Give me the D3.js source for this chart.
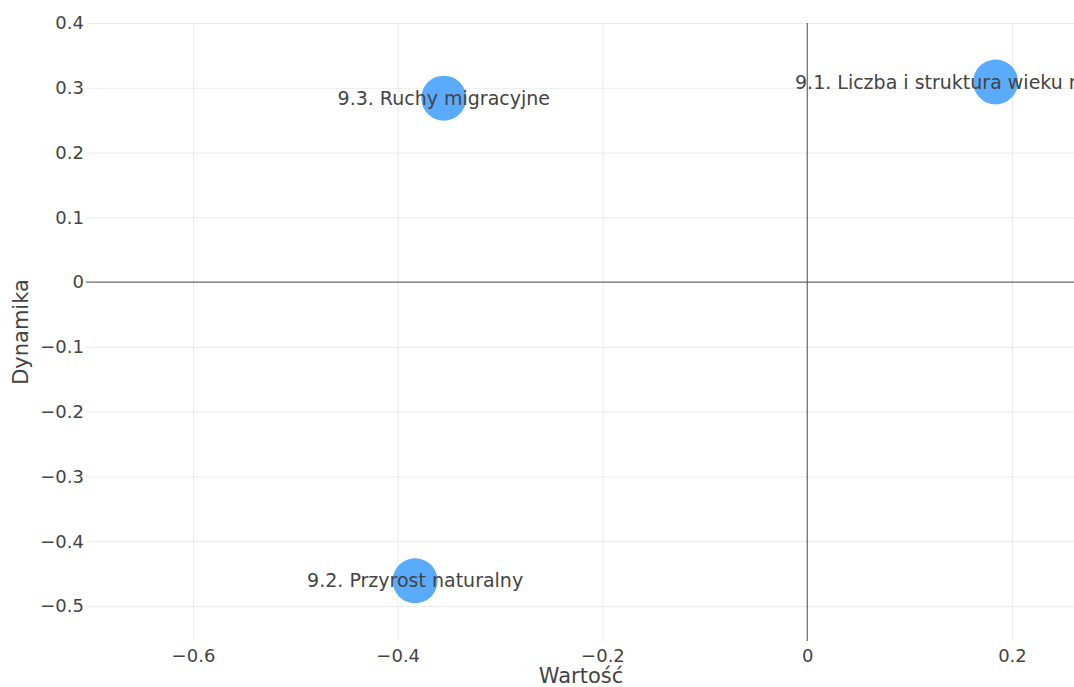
<!DOCTYPE html>
<html><head><meta charset="utf-8">
<script src="https://cdn.jsdelivr.net/npm/d3@7"></script>
<style>body{margin:0;background:#fff}svg{display:block}</style>
</head><body>
<svg id="chart" width="1074" height="687"></svg>
<script>
const labels = ["9.1. Liczba i struktura wieku mieszkańców", "9.2. Przyrost naturalny", "9.3. Ruchy migracyjne"];
const wartosc = [0.184, -0.383, -0.355];
const dynamika = [0.309, -0.461, 0.284];
const xTicks = [-0.6, -0.4, -0.2, 0, 0.2];
const yTicks = [-0.5, -0.4, -0.3, -0.2, -0.1, 0, 0.1, 0.2, 0.3, 0.4];

const svg = d3.select("#chart");
const W = 1074, H = 687;
const m = {left: 86, right: 0, top: 23, bottom: 46};
const x = d3.scaleLinear().domain([-0.7045, 0.2606]).range([m.left, W - m.right]);
const y = d3.scaleLinear().domain([-0.554, 0.4]).range([H - m.bottom, m.top]);
const font = "'DejaVu Sans', Verdana, sans-serif";
const fmt = v => v === 0 ? "0" : d3.format(".1f")(v);

// grid
const gx = svg.append("g").attr("transform", `translate(0,${H - m.bottom})`)
  .call(d3.axisBottom(x).tickValues(xTicks).tickSize(-(H - m.top - m.bottom)).tickFormat(fmt).tickPadding(8));
const gy = svg.append("g").attr("transform", `translate(${m.left},0)`)
  .call(d3.axisLeft(y).tickValues(yTicks).tickSize(-(W - m.left - m.right)).tickFormat(fmt).tickPadding(2));
[gx, gy].forEach(g => {
  g.select(".domain").remove();
  g.selectAll(".tick line").attr("stroke", "#ebebeb").attr("stroke-width", 1);
  g.selectAll(".tick text").attr("fill", "#444").style("font-family", font).style("font-size", "18px");
});
gx.selectAll(".tick").filter(d => d === 0).select("line").attr("stroke", "none");
gy.selectAll(".tick").filter(d => d === 0).select("line").attr("stroke", "none");

// zero lines
svg.append("line").attr("x1", x(0)).attr("x2", x(0)).attr("y1", m.top).attr("y2", H - m.bottom)
  .attr("stroke", "#444").attr("stroke-width", 1);
svg.append("line").attr("x1", m.left).attr("x2", W - m.right).attr("y1", y(0)).attr("y2", y(0))
  .attr("stroke", "#444").attr("stroke-width", 1);

// points
const data = labels.map((l, i) => ({l, x: wartosc[i], y: dynamika[i]}));
const pts = svg.append("g");
pts.selectAll("circle").data(data).join("circle")
  .attr("cx", d => x(d.x)).attr("cy", d => y(d.y)).attr("r", 22.5)
  .attr("fill", "#5aabfc");
pts.selectAll("text").data(data).join("text")
  .attr("x", d => x(d.x)).attr("y", d => y(d.y)).attr("dy", "0.35em")
  .attr("text-anchor", "middle").attr("fill", "#444")
  .style("font-family", font).style("font-size", "19px").text(d => d.l);

// axis titles
svg.append("text").attr("x", 581).attr("y", 683).attr("text-anchor", "middle")
  .attr("fill", "#444").style("font-family", font).style("font-size", "21px").text("Wartość");
svg.append("text").attr("transform", `translate(28,${(m.top + H - m.bottom) / 2}) rotate(-90)`)
  .attr("text-anchor", "middle").attr("fill", "#444").style("font-family", font).style("font-size", "21px").text("Dynamika");
</script>
</body></html>
